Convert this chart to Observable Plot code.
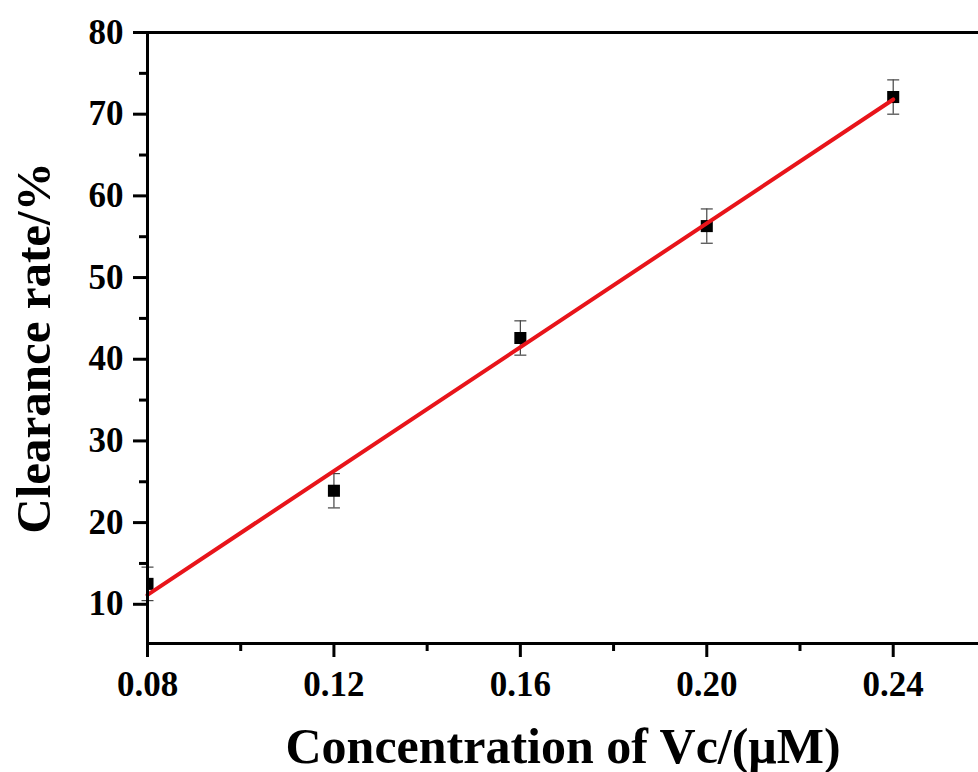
<!DOCTYPE html>
<html>
<head>
<meta charset="utf-8">
<script src="https://cdn.jsdelivr.net/npm/d3@7"></script>
<script src="https://cdn.jsdelivr.net/npm/@observablehq/plot@0.6"></script>
<style>
  html, body { margin: 0; padding: 0; background: #fff; }
</style>
</head>
<body>
<div id="chart"></div>
<script>
const concentrations = [0.08, 0.12, 0.16, 0.20, 0.24];
const clearance = [12.5, 23.9, 42.6, 56.3, 72.1];
const errors = [2.05, 2.1, 2.1, 2.1, 2.1];
const xTicks = [0.08, 0.12, 0.16, 0.20, 0.24];
const xMinorTicks = [0.10, 0.14, 0.18, 0.22];
const yTicks = [10, 20, 30, 40, 50, 60, 70, 80];
const yMinorTicks = [15, 25, 35, 45, 55, 65, 75];
const xTitle = "Concentration of Vc/(\u03bcM)";
const yTitle = "Clearance rate/%";

const data = concentrations.map((x, i) => ({x, y: clearance[i], lo: clearance[i] - errors[i], hi: clearance[i] + errors[i]}));

const capSymbol = {
  draw(context, size) {
    const r = Math.sqrt(size / Math.PI);
    context.moveTo(-r, 0);
    context.lineTo(r, 0);
  }
};

const X_DOMAIN = [0.08, 0.2583];
const Y_DOMAIN = [5.2, 80];

const chart = Plot.plot({
  width: 978,
  height: 772,
  marginLeft: 147,
  marginRight: 0,
  marginTop: 32,
  marginBottom: 129,
  style: {fontFamily: "'Liberation Serif', 'Times New Roman', serif", fontWeight: "bold", color: "#000", background: "#fff"},
  x: {domain: X_DOMAIN, axis: null},
  y: {domain: Y_DOMAIN, axis: null},
  marks: [
    // error bars
    Plot.ruleX(data, {x: "x", y1: "lo", y2: "hi", stroke: "#444", strokeWidth: 1.2}),
    Plot.dot(data, {x: "x", y: "lo", symbol: capSymbol, r: 6, stroke: "#444", strokeWidth: 1.2, fill: "none"}),
    Plot.dot(data, {x: "x", y: "hi", symbol: capSymbol, r: 6, stroke: "#444", strokeWidth: 1.2, fill: "none"}),
    // markers
    Plot.dot(data, {x: "x", y: "y", symbol: "square", r: 6.8, fill: "#000", stroke: "none", clip: true}),
    // linear fit
    Plot.linearRegressionY(data, {x: "x", y: "y", stroke: "#e8141a", strokeWidth: 4, ci: 0}),
    // frame lines
    Plot.ruleX([X_DOMAIN[0]], {stroke: "#000", strokeWidth: 3}),
    Plot.ruleY([Y_DOMAIN[0]], {stroke: "#000", strokeWidth: 3}),
    Plot.ruleY([Y_DOMAIN[1]], {stroke: "#000", strokeWidth: 3}),
    // axes
    Plot.axisX(xTicks, {anchor: "bottom", tickSize: 14, tickPadding: 14, strokeWidth: 3, fontSize: 35, tickFormat: d3.format(".2f"), label: null}),
    Plot.axisX(xMinorTicks, {anchor: "bottom", tickSize: 8, strokeWidth: 3, text: null, label: null}),
    Plot.axisY(yTicks, {anchor: "left", tickSize: 14, tickPadding: 10, strokeWidth: 3, fontSize: 35, label: null}),
    Plot.axisY(yMinorTicks, {anchor: "left", tickSize: 8, strokeWidth: 3, text: null, label: null}),
    // titles
    Plot.text([xTitle], {frameAnchor: "bottom", textAnchor: "middle", lineAnchor: "middle", dy: 103, fontSize: 50, fontWeight: "bold", fill: "#000"}),
    Plot.text([yTitle], {frameAnchor: "left", textAnchor: "middle", lineAnchor: "middle", dx: -113, dy: 10, rotate: -90, fontSize: 49, fontWeight: "bold", fill: "#000"})
  ]
});

document.getElementById("chart").appendChild(chart);
</script>
</body>
</html>
